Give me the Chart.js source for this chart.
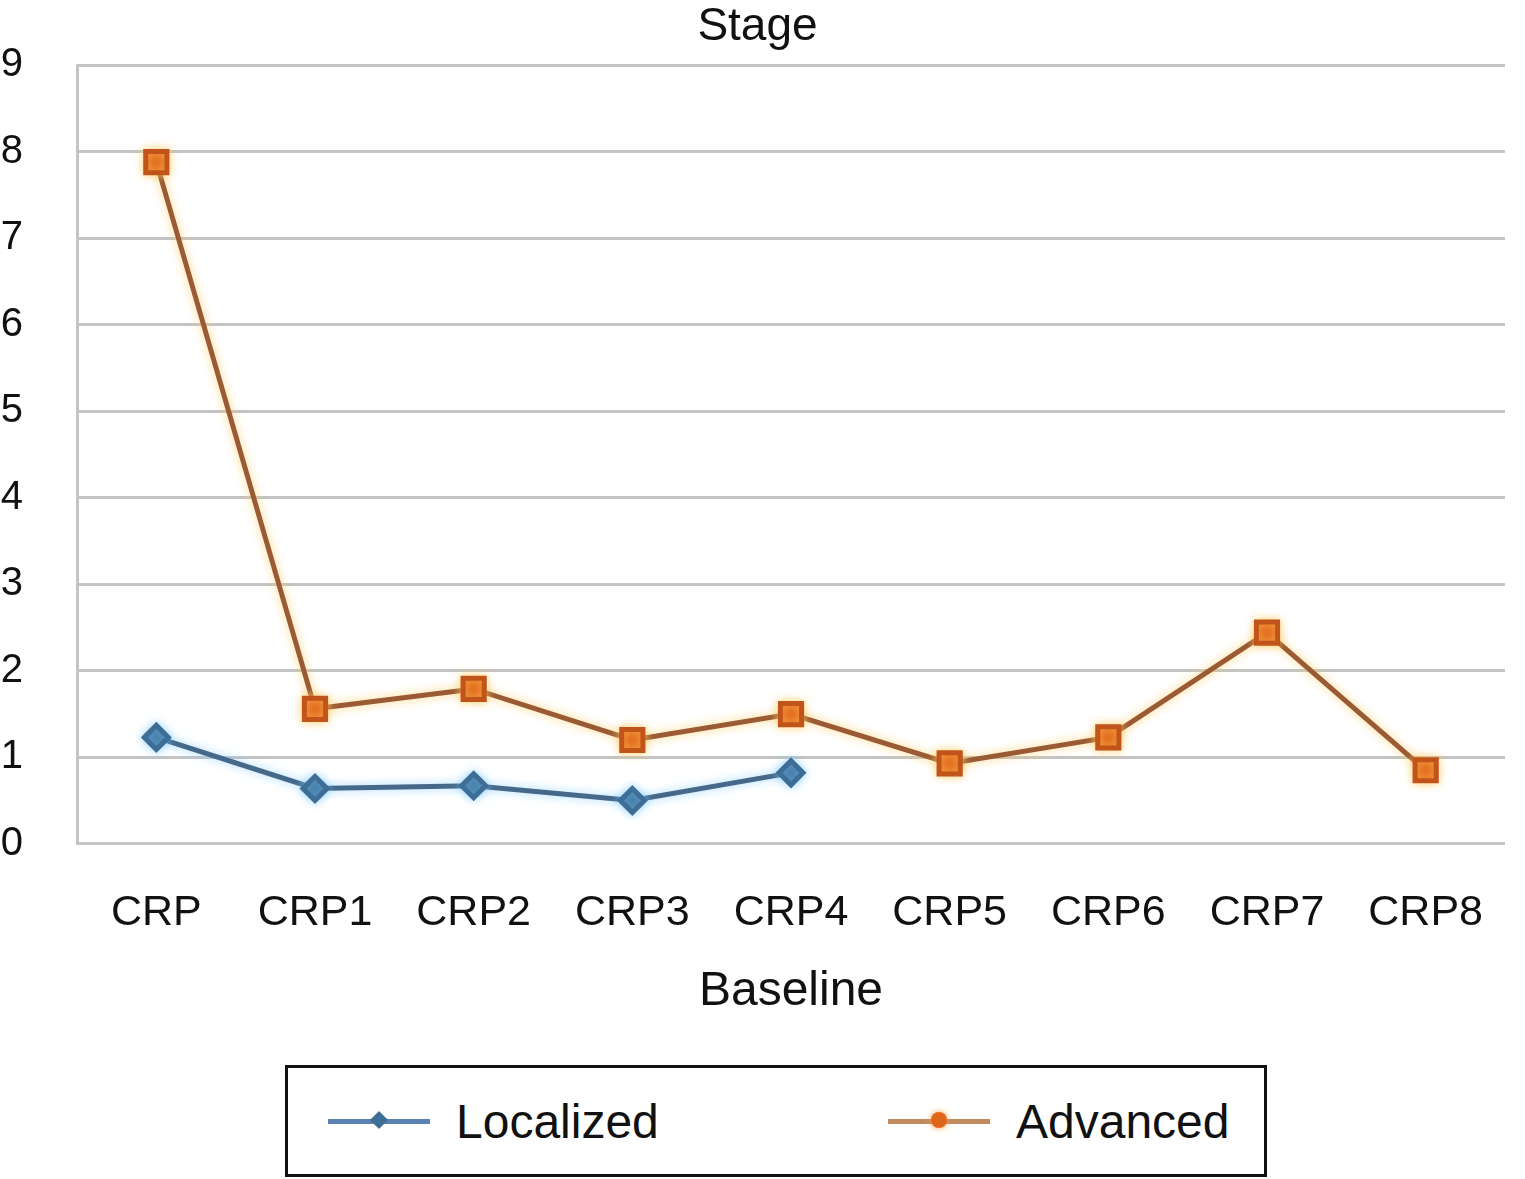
<!DOCTYPE html>
<html>
  <head>
    <meta charset="utf-8"/>
    <script src="https://cdn.jsdelivr.net/npm/chart.js@4.4.1/dist/chart.umd.min.js"></script>
    <style>
      body { margin: 0; background: #fff; font-family: "Liberation Sans", Arial, sans-serif; }
      #wrap { position: relative; width: 1525px; height: 1179px; }
      #holder { position: absolute; left: 0; top: 0; width: 1525px; height: 1021px; }
      #legend {
        position: absolute; left: 285px; top: 1065px; width: 976px; height: 106px;
        border: 3px solid #111; box-sizing: content-box;
      }
      .item { position: absolute; top: 0; height: 106px; display: flex; align-items: center; font-size: 48px; color: #111; }
      .sample { position: relative; width: 102px; height: 20px; margin-right: 26px; }
      .sample .ln { position: absolute; left: 0; right: 0; top: 8px; height: 5px; }
      .sample .mk { position: absolute; left: 43px; top: 1px; width: 16px; height: 16px; }
    </style>
  </head>
  <body>
    <div id="wrap">
      <div id="holder"><canvas id="chart-area"></canvas></div>
      <!-- legend drawn as html so the box and spacing match -->
      <div id="legend">
        <div class="item" style="left:40px">
          <div class="sample"><div class="ln" style="background:#5a82b0"></div><div class="mk" style="background:#3e6e96;transform:rotate(45deg) scale(0.8)"></div></div>
          <span>Localized</span>
        </div>
        <div class="item" style="left:600px">
          <div class="sample"><div class="ln" style="background:#c08a60"></div><div class="mk" style="background:#e0661c;border-radius:50%;box-shadow:0 0 6px #f0a040"></div></div>
          <span>Advanced</span>
        </div>
      </div>
    </div>

    <script>
      var categories = ['CRP', 'CRP1', 'CRP2', 'CRP3', 'CRP4', 'CRP5', 'CRP6', 'CRP7', 'CRP8'];
      var localized = [1.23, 0.64, 0.67, 0.50, 0.82, null, null, null, null];
      var advanced = [7.88, 1.56, 1.79, 1.20, 1.50, 0.93, 1.23, 2.44, 0.85];
      var yTicks = [0, 1, 2, 3, 4, 5, 6, 7, 8, 9];

      var fontFam = '"Liberation Sans", Arial, sans-serif';

      // soft glow round each line, like the original export
      var glow = {
        id: 'glow',
        beforeDatasetDraw: function(chart, args) {
          var ctx = chart.ctx;
          ctx.save();
          ctx.shadowColor = args.index === 0 ? 'rgba(120,200,255,0.7)' : 'rgba(255,200,90,0.8)';
          ctx.shadowBlur = 10;
        },
        afterDatasetDraw: function(chart) {
          chart.ctx.restore();
        }
      };

      var ctx = document.getElementById('chart-area').getContext('2d');
      var chart = new Chart(ctx, {
        type: 'line',
        data: {
          labels: categories,
          datasets: [{
            label: 'Localized',
            data: localized,
            borderColor: '#46698a',
            backgroundColor: '#3e6e96',
            borderWidth: 5,
            pointStyle: 'rectRot',
            pointRadius: 12,
            pointBorderColor: '#3e6e96',
            pointBackgroundColor: '#3e6e96',
            spanGaps: false,
            tension: 0
          }, {
            label: 'Advanced',
            data: advanced,
            borderColor: '#9a5a34',
            backgroundColor: '#e0661c',
            borderWidth: 5,
            pointStyle: 'rect',
            pointRadius: 15,
            pointBorderColor: '#c0541a',
            pointBackgroundColor: '#e0661c',
            tension: 0
          }]
        },
        options: {
          responsive: true,
          maintainAspectRatio: false,
          animation: false,
          layout: { padding: { left: 0, right: 10, top: 0, bottom: 0 } },
          plugins: {
            legend: { display: false },
            tooltip: { enabled: false },
            title: {
              display: true,
              text: 'Stage',
              color: '#111',
              font: { family: fontFam, size: 46, weight: 'normal', lineHeight: 1.2 },
              padding: { top: 0, bottom: 10 }
            }
          },
          scales: {
            x: {
              offset: true,
              afterFit: function(axis) { axis.paddingLeft = 0; axis.paddingRight = 0; },
              grid: { display: false, drawTicks: false },
              border: { display: false },
              ticks: {
                color: '#111',
                padding: 44,
                maxRotation: 0,
                font: { family: fontFam, size: 43 }
              },
              title: {
                display: true,
                text: 'Baseline',
                color: '#111',
                font: { family: fontFam, size: 48 },
                padding: { top: -20, bottom: 0 }
              }
            },
            y: {
              min: 0,
              max: 9,
              afterBuildTicks: function(axis) {
                axis.ticks = yTicks.map(function(v) { return { value: v }; });
              },
              afterFit: function(axis) {
                axis.width = 77;
                axis.paddingTop = 0;
                axis.paddingBottom = 0;
              },
              grid: { color: '#c4c4c4', lineWidth: 3, drawTicks: false },
              border: { display: true, color: '#c4c4c4', width: 3 },
              ticks: {
                color: '#111',
                padding: 54,
                font: { family: fontFam, size: 40 }
              }
            }
          }
        },
        plugins: [glow]
      });
    </script>
  </body>
</html>
